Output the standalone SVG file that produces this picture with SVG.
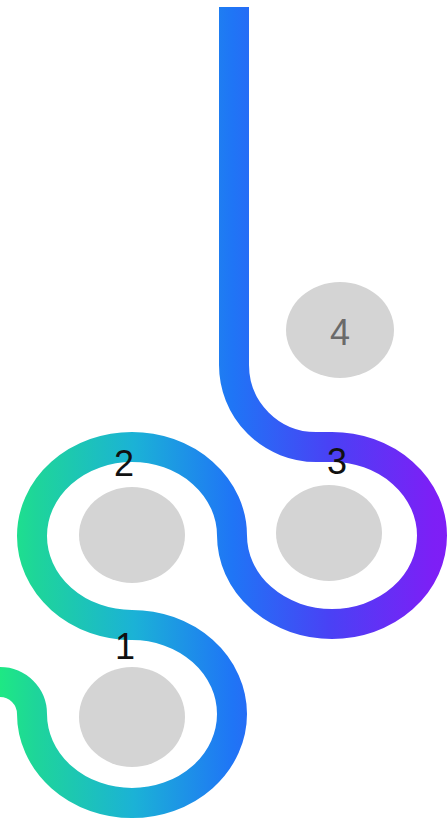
<svg xmlns="http://www.w3.org/2000/svg" width="447" height="820" viewBox="0 0 447 820">
  <defs>
    <linearGradient id="g" gradientUnits="userSpaceOnUse" x1="0" y1="0" x2="447" y2="0">
      <stop offset="0" stop-color="#1ee884"/>
      <stop offset="0.08" stop-color="#1ed59a"/>
      <stop offset="0.3" stop-color="#1bb2d6"/>
      <stop offset="0.52" stop-color="#1f75f6"/>
      <stop offset="0.74" stop-color="#4a41f5"/>
      <stop offset="0.97" stop-color="#7d1ff6"/>
      <stop offset="1" stop-color="#7f1ef6"/>
    </linearGradient>
  </defs>
  <style>
    .track { fill: none; stroke: url(#g); stroke-width: 30; stroke-linecap: butt; stroke-linejoin: round; }
    .spot { fill: #d4d4d4; }
    .num { font-family: "Liberation Sans", Arial, sans-serif; font-size: 36px; text-anchor: middle; fill: #111; }
    .num.dim { fill: #6a6a6a; }
  </style>
  <rect width="447" height="820" fill="#ffffff"/>
  <g id="connectors">
    <path class="track" d="M 234 7 V 365 A 82 82 0 0 0 316 447 H 332 A 100 88.5 0 0 1 332 624 A 100 88.5 0 0 1 232 535.5 A 100 88.5 0 0 0 132 447 A 100 89 0 0 0 132 625 A 100 89 0 0 1 232 714 A 100 89 0 0 1 132 803 A 100 89 0 0 1 32 714 A 32 32 0 0 0 0 682 H -20"/>
  </g>
  <g id="node-4">
    <ellipse class="spot" cx="340" cy="330" rx="54" ry="48"/>
    <text class="num dim" x="340" y="345">4</text>
  </g>
  <g id="node-3">
    <ellipse class="spot" cx="329" cy="533" rx="53" ry="48"/>
    <text class="num" x="337" y="474">3</text>
  </g>
  <g id="node-2">
    <ellipse class="spot" cx="132" cy="535" rx="53" ry="48"/>
    <text class="num" x="124" y="476">2</text>
  </g>
  <g id="node-1">
    <ellipse class="spot" cx="132" cy="717" rx="53" ry="50"/>
    <text class="num" x="125" y="659">1</text>
  </g>
</svg>
